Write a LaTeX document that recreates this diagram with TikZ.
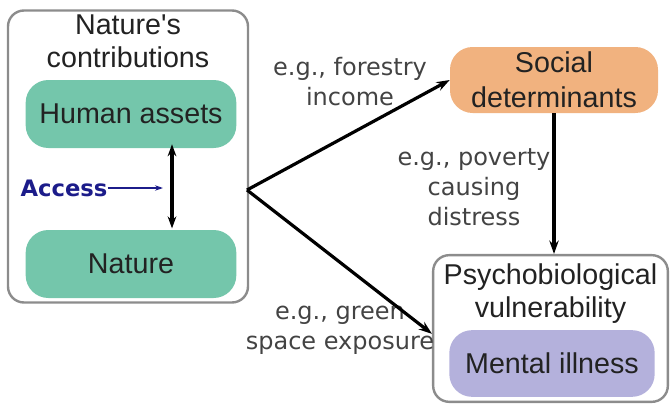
\documentclass[tikz,border=0pt]{standalone}
\usepackage{fontspec}
\setmainfont{Liberation Sans}
\newfontfamily\labelfont{DejaVu Sans}
\usepackage{tikz}
\usetikzlibrary{arrows.meta, positioning, calc}

\definecolor{teal1}{HTML}{74C6AB}
\definecolor{orange1}{HTML}{F1B27F}
\definecolor{lav1}{HTML}{B4B1DC}
\definecolor{frame1}{HTML}{8C8C8C}
\definecolor{ink1}{HTML}{222222}
\definecolor{navy1}{HTML}{1C1C8A}

\begin{document}
\begin{tikzpicture}[x=0.75pt, y=-0.75pt,
    every node/.style={inner sep=0pt, text=ink1},
    frame/.style={draw=frame1, line width=1.8pt, rounded corners=12pt},
    pill/.style={rounded corners=17pt, minimum width=158pt, minimum height=51pt,
        font=\fontsize{21.5}{25}\selectfont},
    title/.style={align=center, font=\fontsize{21.5}{24.5}\selectfont},
    egtext/.style={align=center, font=\labelfont\fontsize{18}{22.5}\selectfont, text=ink1!85},
    bigarrow/.style={-{Stealth[length=10pt, width=7pt]}, line width=2.4pt, black}]
    \useasboundingbox (0,0) rectangle (671,407);

    % Define nodes
    \node[frame, minimum width=180pt, minimum height=219pt] (contrib) at (128,156.5) {};
    \node[title, below=4pt of contrib.north] (contribTitle) {Nature\textquotesingle s\\contributions};
    \node[pill, fill=teal1] (human) at (131,114) {Human assets};
    \node[pill, fill=teal1] (nature) at (131,264) {Nature};

    \node[pill, fill=orange1, minimum width=156pt, minimum height=49.5pt,
        align=center, font=\fontsize{21.5}{26}\selectfont] (social) at (554,80) {Social\\determinants};

    \node[frame, minimum width=176pt, minimum height=110pt] (psycho) at (550.5,328.5) {};
    \node[title, below=7pt of psycho.north] (psychoTitle) {Psychobiological\\vulnerability};
    \node[pill, fill=lav1, minimum width=154pt, minimum height=50pt] (mental) at (552,363.5) {Mental illness};

    % Access label inside the left box
    \node[font=\labelfont\bfseries\fontsize{17}{20}\selectfont, text=navy1] (access) at (64,188) {Access};
    \coordinate (accessEnd) at (163,188);
    \coordinate (branch) at (247,190);

    % Labels on the arrows
    \node[egtext] (forestry) at (350,82) {e.g., forestry\\income};
    \node[egtext] (poverty) at (474,187) {e.g., poverty\\causing\\distress};
    \node[egtext] (green) at (340,330) {e.g., green\\space exposure};

    % Draw arrows
    \draw[{Stealth[length=9pt, width=6.5pt]}-{Stealth[length=9pt, width=6.5pt]}, line width=2.4pt, black]
        ([xshift=30.75pt, yshift=3pt]human.south) -- ([xshift=30.75pt, yshift=1pt]nature.north);
    \draw[-{Stealth[length=6pt, width=4pt]}, line width=1.1pt, navy1] (access.east) -- (accessEnd);
    \draw[bigarrow] (branch) -- (social.west);
    \draw[bigarrow] (branch) -- ([yshift=-4pt]psycho.west);
    \draw[bigarrow] (social.south) -- (social.south |- psycho.north);
\end{tikzpicture}
\end{document}
